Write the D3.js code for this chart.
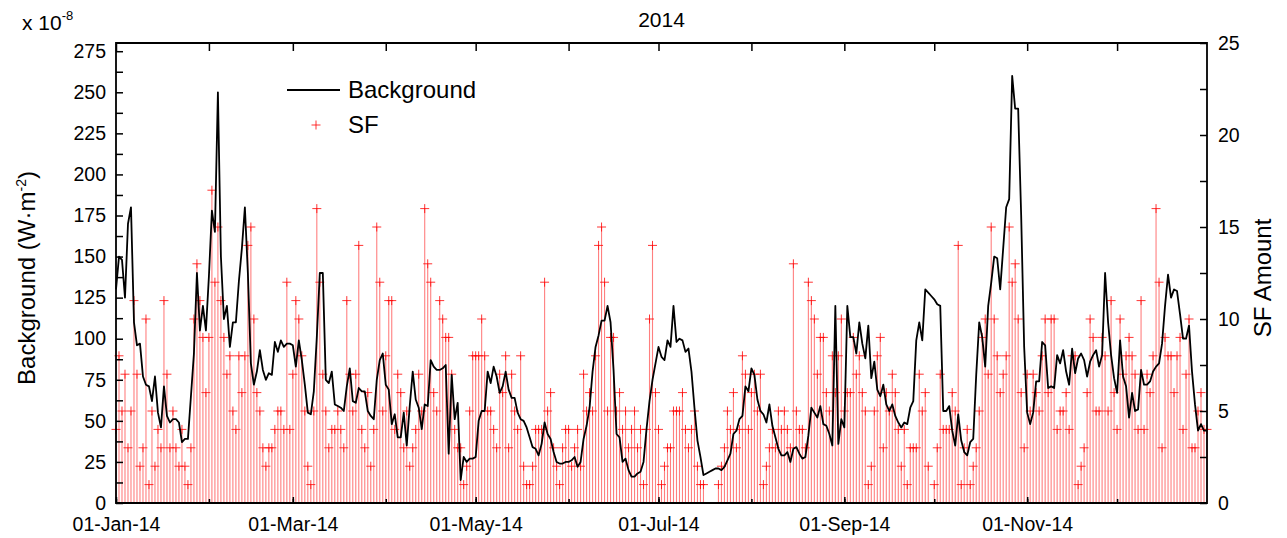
<!DOCTYPE html>
<html>
<head>
<meta charset="utf-8">
<script src="https://cdn.jsdelivr.net/npm/d3@7/dist/d3.min.js"></script>
<style>
  body { margin: 0; background: #fff; }
  svg { display: block; font-family: "Liberation Sans", Arial, sans-serif; }
</style>
</head>
<body>
<svg id="chart" width="1287" height="538"></svg>
<script>
// daily values for 2014, index 0 = 01-Jan-14
const background = [
  130,150,148,125,170,180,110,96,97,77,
  72,71,62,77,55,46,71,53,49,51,
  51,49,37,39,39,65,91,140,105,120,
  105,138,178,165,250,150,112,120,95,110,
  110,135,155,180,140,85,72,80,93,81,
  75,79,78,98,92,99,95,97,97,96,
  83,99,87,72,55,54,68,101,140,140,
  75,73,80,60,59,58,56,71,82,62,
  61,70,68,68,56,53,51,75,87,91,
  72,69,48,54,40,40,55,35,59,80,
  63,58,45,60,59,87,83,81,81,82,
  84,30,78,51,61,14,28,25,27,27,
  28,50,56,56,80,73,83,77,67,71,
  80,69,64,64,55,51,50,46,40,34,
  33,29,36,49,42,39,31,25,24,24,
  25,25,26,28,22,25,39,47,58,80,
  95,102,111,111,120,110,81,42,40,25,
  27,20,16,16,18,19,25,45,62,75,
  85,95,89,87,99,95,120,98,100,99,
  92,94,80,58,38,28,17,18,19,20,
  21,21,20,22,26,30,42,44,51,53,
  71,68,82,78,63,56,54,49,60,47,
  40,33,29,29,31,25,33,34,30,27,
  28,41,58,55,52,59,48,47,42,35,
  120,36,51,46,120,101,101,91,110,97,
  88,108,76,86,69,65,72,60,56,60,
  53,49,46,49,48,58,62,99,110,99,
  130,128,126,124,121,120,56,56,59,44,
  35,54,38,31,29,37,39,78,110,101,
  83,120,134,150,149,130,155,180,185,260,
  240,240,175,95,55,48,55,74,74,98,
  96,70,71,70,90,85,93,80,72,94,
  79,88,91,87,77,86,90,93,83,90,
  140,110,90,76,67,99,77,71,52,67,
  56,57,81,72,72,74,80,83,85,97,
  120,139,125,130,129,115,100,100,108,80,
  60,44,48,44,44
];

const sfAmount = [
  4,8,5,7,3,5,11,7,2,3,
  10,1,5,2,4,3,11,7,3,5,
  3,2,4,2,1,3,10,13,11,9,
  6,9,17,12,15,11,9,7,8,5,
  4,8,6,8,14,15,10,6,5,3,
  2,3,3,4,5,5,4,12,4,7,
  11,10,8,5,2,1,5,16,12,7,
  5,3,4,4,5,4,3,11,7,5,
  7,14,4,3,6,2,4,15,12,5,
  8,11,11,4,7,6,3,5,2,3,
  4,7,5,16,13,12,6,5,11,10,
  9,9,7,4,3,3,1,2,5,8,
  8,8,10,8,5,5,4,3,7,6,
  8,3,7,5,4,8,2,1,1,2,
  4,4,4,12,5,6,3,2,1,3,
  4,4,2,3,4,2,7,5,6,5,
  8,14,15,12,5,9,9,5,6,4,
  5,3,4,5,3,4,1,4,10,14,
  6,4,1,2,3,3,5,5,5,6,
  4,3,4,5,2,1,1,0,0,0,
  0,1,2,3,5,4,6,3,4,8,
  7,4,6,7,5,7,1,2,3,4,
  3,5,4,5,4,3,13,5,4,4,
  3,12,11,10,7,9,9,6,5,8,
  6,8,10,5,6,6,9,7,8,6,
  5,1,2,5,8,9,3,6,5,7,
  6,4,2,4,1,3,3,3,7,5,
  6,2,0,1,3,7,4,4,4,6,
  5,14,1,3,4,1,2,3,5,9,
  10,7,15,10,8,6,7,8,15,12,
  13,10,6,3,7,5,7,6,5,8,
  10,6,10,10,4,5,5,6,4,8,
  8,1,2,3,6,10,9,5,5,9,
  8,5,11,6,4,10,7,8,9,8,
  7,4,11,4,7,6,8,16,12,3,
  9,8,8,6,8,9,4,7,10,3,
  3,5,6,4,4
];

const leftTicks = [0, 25, 50, 75, 100, 125, 150, 175, 200, 225, 250, 275];
const rightTicks = [0, 5, 10, 15, 20, 25];
const seriesNames = ["Background", "SF"];
const chartTitle = "2014";

const svg = d3.select("#chart");
const margin = { top: 43, right: 80, bottom: 35, left: 116 };
const width = 1287, height = 538;
const pLeft = margin.left, pRight = width - margin.right;
const pBottom = height - margin.bottom, pTop = margin.top;

const start = new Date(Date.UTC(2014, 0, 1));
const dates = background.map((_, i) => d3.utcDay.offset(start, i));

const x = d3.scaleUtc().domain([start, new Date(Date.UTC(2014, 11, 31))]).range([pLeft, pRight]);
const yL = d3.scaleLinear().domain([0, 280]).range([pBottom, pTop]);
const yR = d3.scaleLinear().domain([0, 25]).range([pBottom, pTop]);

const red = "#ff0000";
const sfPoints = sfAmount.map((v, i) => ({ date: dates[i], value: v })).filter(d => d.value > 0);

// SF stems
const sf = svg.append("g");
sf.selectAll("line")
  .data(sfPoints)
  .join("line")
  .attr("x1", d => x(d.date))
  .attr("x2", d => x(d.date))
  .attr("y1", yR(0))
  .attr("y2", d => yR(d.value))
  .attr("stroke", red)
  .attr("stroke-opacity", 0.5)
  .attr("stroke-width", 1.1);

const plus = "M-4.5,0H4.5M0,-4.5V4.5";
sf.selectAll("path")
  .data(sfPoints)
  .join("path")
  .attr("d", plus)
  .attr("transform", d => `translate(${x(d.date)},${yR(d.value)})`)
  .attr("fill", "none")
  .attr("stroke", red)
  .attr("stroke-opacity", 0.8)
  .attr("stroke-width", 1);

// background line
const line = d3.line()
  .x((d, i) => x(dates[i]))
  .y(d => yL(d));

svg.append("path")
  .datum(background)
  .attr("d", line)
  .attr("fill", "none")
  .attr("stroke", "#000")
  .attr("stroke-width", 1.8)
  .attr("stroke-linejoin", "round");

// axes
const fmt = d3.utcFormat("%d-%b-%y");
const months = d3.utcMonth.range(start, new Date(Date.UTC(2015, 0, 1)));
const majorMonths = months.filter((d, i) => i % 2 === 0);
const noLabel = () => "";

function styleAxis(g) {
  g.select(".domain").remove();
  g.selectAll(".tick line").attr("stroke", "#000").attr("stroke-width", 1.5);
  g.selectAll(".tick text").attr("fill", "#000").style("font-size", "19.5px");
}

svg.append("g")
  .attr("transform", `translate(0,${pBottom})`)
  .call(d3.axisBottom(x).tickValues(majorMonths).tickFormat(fmt).tickSize(-6).tickPadding(14))
  .call(styleAxis);
svg.append("g")
  .attr("transform", `translate(0,${pBottom})`)
  .call(d3.axisBottom(x).tickValues(months).tickFormat(noLabel).tickSize(-4))
  .call(styleAxis);
svg.append("g")
  .attr("transform", `translate(0,${pTop})`)
  .call(d3.axisTop(x).tickValues(months).tickFormat(noLabel).tickSize(-8))
  .call(styleAxis);

const leftMinor = leftTicks.map(d => d + 12.5).filter(d => d < 280);
svg.append("g")
  .attr("transform", `translate(${pLeft},0)`)
  .call(d3.axisLeft(yL).tickValues(leftTicks).tickSize(-7).tickPadding(10))
  .call(styleAxis);
svg.append("g")
  .attr("transform", `translate(${pLeft},0)`)
  .call(d3.axisLeft(yL).tickValues(leftMinor).tickFormat(noLabel).tickSize(-7))
  .call(styleAxis);

svg.append("g")
  .attr("transform", `translate(${pRight},0)`)
  .call(d3.axisRight(yR).tickValues(rightTicks).tickSize(-7).tickPadding(11))
  .call(styleAxis);
svg.append("g")
  .attr("transform", `translate(${pRight},0)`)
  .call(d3.axisRight(yR).tickValues(rightTicks.slice(0, -1).map(d => d + 2.5)).tickFormat(noLabel).tickSize(-7))
  .call(styleAxis);

// frame
svg.append("path")
  .attr("d", `M${pLeft},${pTop}H${pRight}V${pBottom}H${pLeft}Z`)
  .attr("fill", "none")
  .attr("stroke", "#000")
  .attr("stroke-width", 1.8);

// title and labels
svg.append("text")
  .attr("x", (pLeft + pRight) / 2).attr("y", 27)
  .attr("text-anchor", "middle")
  .style("font-size", "21px")
  .text(chartTitle);

const exp = svg.append("text").attr("x", 22).attr("y", 30).style("font-size", "21px");
exp.append("tspan").text("x 10");
exp.append("tspan").attr("dy", -10).style("font-size", "13px").text("-8");

const yLabel = svg.append("text")
  .attr("transform", `translate(35,${(pBottom + pTop) / 2 + 5}) rotate(-90)`)
  .attr("text-anchor", "middle")
  .style("font-size", "24px");
yLabel.append("tspan").text("Background (W\u00b7m");
yLabel.append("tspan").attr("dy", -9).style("font-size", "14px").text("-2");
yLabel.append("tspan").attr("dy", 9).text(")");

svg.append("text")
  .attr("transform", `translate(1271,${(pBottom + pTop) / 2 + 5}) rotate(-90)`)
  .attr("text-anchor", "middle")
  .style("font-size", "24px")
  .text("SF Amount");

// legend
const legend = svg.append("g");
legend.append("line")
  .attr("x1", 287).attr("x2", 340).attr("y1", 90).attr("y2", 90)
  .attr("stroke", "#000").attr("stroke-width", 1.8);
legend.append("text")
  .attr("x", 348).attr("y", 98)
  .style("font-size", "24px")
  .text(seriesNames[0]);
legend.append("path")
  .attr("d", plus)
  .attr("transform", "translate(316,125)")
  .attr("fill", "none").attr("stroke", red).attr("stroke-opacity", 0.8);
legend.append("text")
  .attr("x", 348).attr("y", 133)
  .style("font-size", "24px")
  .text(seriesNames[1]);
</script>
</body>
</html>
